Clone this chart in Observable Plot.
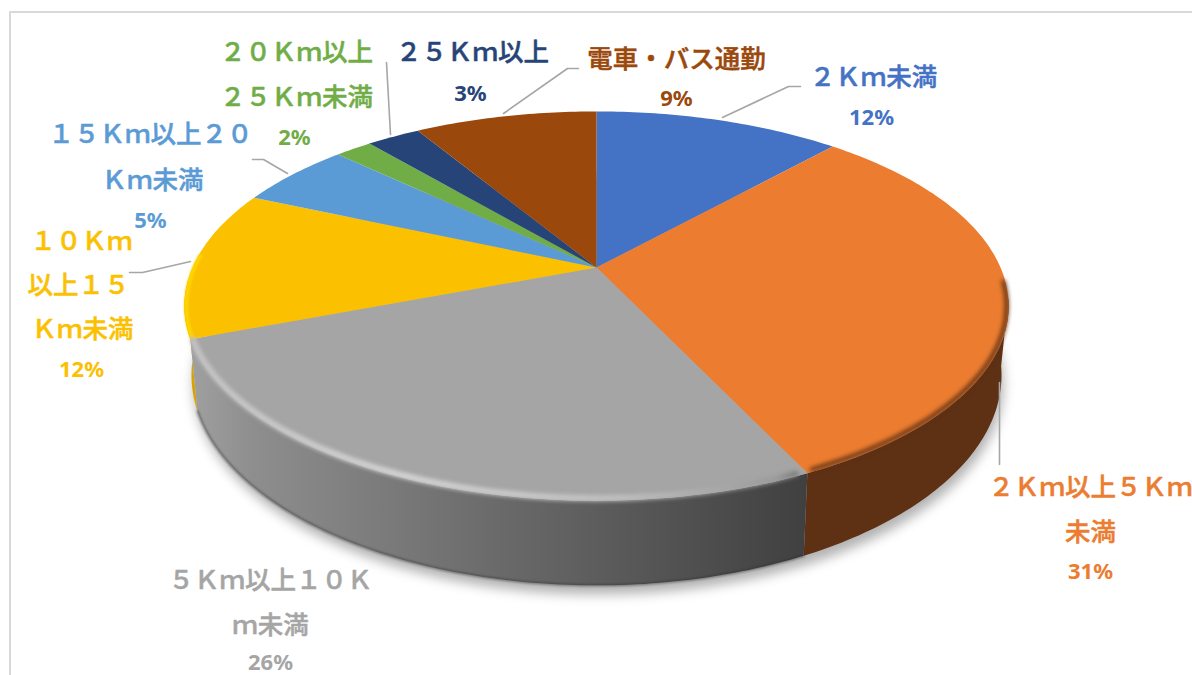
<!DOCTYPE html>
<html lang="ja">
<head>
<meta charset="utf-8">
<script src="https://cdn.jsdelivr.net/npm/d3@7"></script>
<script src="https://cdn.jsdelivr.net/npm/@observablehq/plot@0.6"></script>
<style>html,body{margin:0;padding:0;background:#fff;overflow:hidden}svg{display:block}</style>
</head>
<body>
<div id="chart"></div>
<script>
// Data
const categories = ["２Ｋｍ未満","２Ｋｍ以上５Ｋｍ未満","５Ｋｍ以上１０Ｋｍ未満","１０Ｋｍ以上１５Ｋｍ未満","１５Ｋｍ以上２０Ｋｍ未満","２０Ｋｍ以上２５Ｋｍ未満","２５Ｋｍ以上","電車・バス通勤"];
const shares = [11.7, 31.25, 26.25, 12.4, 5.45, 1.75, 2.55, 8.65];
const percentLabels = ["12%","31%","26%","12%","5%","2%","3%","9%"];
const colors = ["#4472C4","#EB7C30","#A5A5A5","#FBC000","#5B9BD5","#70AD47","#264478","#9A480C"];

// Label layout: wrapped lines as the chart wraps them
const labelLines = [
  {i:0,t:"２Ｋｍ未満",x:873,y:77},
  {i:1,t:"２Ｋｍ以上５Ｋｍ",x:1090,y:487},{i:1,t:"未満",x:1090,y:532},
  {i:2,t:"５Ｋｍ以上１０Ｋ",x:270,y:580},{i:2,t:"ｍ未満",x:270,y:625},
  {i:3,t:"１０Ｋｍ",x:81,y:241},{i:3,t:"以上１５",x:78,y:285},{i:3,t:"Ｋｍ未満",x:82,y:329},
  {i:4,t:"１５Ｋｍ以上２０",x:150,y:134},{i:4,t:"Ｋｍ未満",x:152,y:180},
  {i:5,t:"２０Ｋｍ以上",x:296,y:52},{i:5,t:"２５Ｋｍ未満",x:296,y:97},
  {i:6,t:"２５Ｋｍ以上",x:472,y:52},
  {i:7,t:"電車・バス通勤",x:676,y:59}
];
const percentPos = [[871,117],[1090,571],[270,662],[81,369],[150,220],[294,137],[470,93],[676,98]];
const leaders = [
  [[722,117],[788,86],[800,86]],
  [[999,382],[999,464]],
  [[129,272],[142,272],[190,261]],
  [[252,159],[263,159],[287,173]],
  [[386,62],[390,134]],
  [[503,113],[567,68],[578,68]]
];

// Perspective mapping of the pie disc (fraction of a turn -> page coordinates)
const K = 0.198;
const project = (t, d) => {
  const a = 2 * Math.PI * t, u = Math.sin(a), v = Math.cos(a), w = 1 + K * v;
  return {x: 596 + d.A * u / w, y: d.y0 - d.B * v / w};
};
const TOP = {A:404, B:187, y0:267};
const RIM = {A:402, B:185, y0:267};
const BOT = {A:397, B:202, y0:333};
const total = d3.sum(shares);
const cum = d3.cumsum(shares).map(v => v / total);
const starts = [0, ...cum.slice(0, -1)];
const arc = (t0, t1, d) => {
  const n = Math.max(2, Math.ceil((t1 - t0) * 400));
  return d3.range(n + 1).map(i => project(t0 + (t1 - t0) * i / n, d));
};
const wall = (t0, t1) => [...arc(t0, t1, TOP), ...arc(t0, t1, BOT).reverse()];
const poly = (pts, o) => Plot.line([...pts, pts[0]], {x:"x", y:"y", stroke:"none", ...o});

const defs = () => {
  const d = d3.create("svg:defs");
  const grad = (id, x1, x2, stops) => {
    const g = d.append("linearGradient").attr("id",id)
      .attr("gradientUnits","userSpaceOnUse").attr("x1",x1).attr("x2",x2).attr("y1",0).attr("y2",0);
    stops.forEach(([o,c]) => g.append("stop").attr("offset",o).attr("stop-color",c));
  };
  grad("grayWall",190,806,[[0,"#a0a0a0"],[0.1,"#8e8e8e"],[0.3,"#7c7c7c"],[0.5,"#6a6a6a"],[0.75,"#555555"],[1,"#404040"]]);
  grad("grayRim",190,806,[[0,"#c4c4c4"],[0.35,"#d6d6d6"],[0.7,"#c0c0c0"],[0.95,"#9a9a9a"],[1,"#6c6c6c"]]);
  return d.node();
};

// Wall segments that face the viewer
const wallOrange = wall(0.275, cum[1]);
const wallGray = wall(cum[1], cum[2]);
const wallYellow = wall(cum[2], 0.74);

const labelFont = "'Noto Sans CJK JP','Noto Sans',sans-serif";
const marks = [
  defs,
  // chart frame
  Plot.line([{x:9.5,y:675},{x:9.5,y:11.5},{x:1192,y:11.5}], {x:"x",y:"y",stroke:"#d9d9d9",strokeWidth:2}),
  // soft shadow beneath the disc
  poly(arc(0,1,BOT).map(p => ({x:p.x + 2, y:p.y + 9})), {fill:"#000", fillOpacity:0.3, imageFilter:"blur(6px)"}),
  // side walls
  poly(wallYellow, {fill:"#d8a200"}),
  poly(wallOrange, {fill:"#5E3014"}),
  poly(wallGray, {fill:"url(#grayWall)"}),
  Plot.line(arc(cum[1], cum[2], BOT), {x:"x",y:"y",stroke:"#2e2e2e",strokeWidth:2,strokeOpacity:0.55,imageFilter:"blur(1px)"}),
  // top surface
  ...shares.map((s,i) => poly([{x:596,y:267}, ...arc(starts[i], cum[i], TOP)], {fill:colors[i]})),
  // bevel along the front rim, kept at the edge
  Plot.line(arc(0.262, cum[1] - 0.002, RIM), {x:"x",y:"y",stroke:"#5E3014",strokeWidth:4,imageFilter:"blur(2px)"}),
  Plot.line(arc(cum[2] + 0.002, 0.76, RIM), {x:"x",y:"y",stroke:"#FFD500",strokeWidth:4,imageFilter:"blur(1px)"}),
  Plot.line(arc(cum[1] + 0.004, cum[2] - 0.001, RIM), {x:"x",y:"y",stroke:"url(#grayRim)",strokeWidth:6,imageFilter:"blur(2px)"}),
  // leader lines
  ...leaders.map(l => Plot.line(l.map(([x,y]) => ({x,y})), {x:"x",y:"y",stroke:"#a6a6a6",strokeWidth:1.6})),
  // labels
  Plot.text(labelLines, {x:"x",y:"y",text:"t",fill:d => colors[d.i],stroke:d => colors[d.i],strokeWidth:0.5,fontSize:25.5,fontWeight:500,
    fontFamily:labelFont}),
  Plot.text(percentLabels.map((t,i) => ({t,i,x:percentPos[i][0],y:percentPos[i][1]})), {x:"x",y:"y",text:"t",fill:d => colors[d.i],fontSize:22,fontWeight:700,
    fontFamily:"'Noto Sans','Open Sans',sans-serif"})
];

document.getElementById("chart").append(Plot.plot({
  width:1192, height:675, margin:0,
  x:{domain:[0,1192], range:[0,1192], axis:null},
  y:{domain:[0,675], range:[0,675], axis:null},
  color:{type:"identity"},
  style:{background:"#fff", overflow:"hidden"},
  marks
}));
</script>
</body>
</html>
